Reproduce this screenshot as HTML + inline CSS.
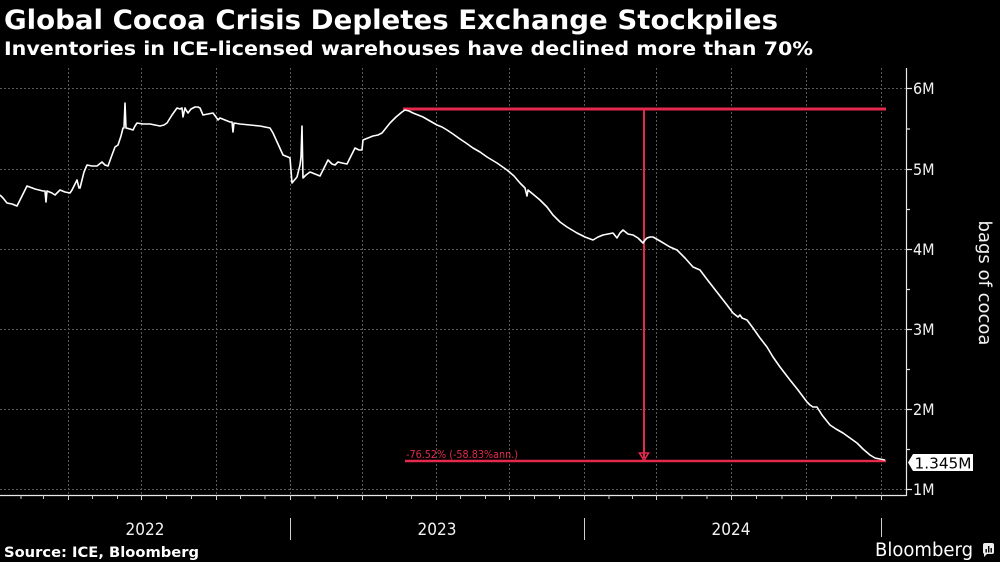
<!DOCTYPE html>
<html>
<head>
<meta charset="utf-8">
<style>
html,body{margin:0;padding:0;background:#000;}
body{width:1000px;height:562px;overflow:hidden;}
svg{display:block;}
</style>
</head>
<body>
<svg width="1000" height="562" viewBox="0 0 1000 562" xmlns="http://www.w3.org/2000/svg">
<rect x="0" y="0" width="1000" height="562" fill="#000"/>

<!-- Title -->
<text x="4" y="29" font-family="DejaVu Sans, Liberation Sans, sans-serif" font-weight="bold" font-size="27" fill="#fff" textLength="774" lengthAdjust="spacingAndGlyphs">Global Cocoa Crisis Depletes Exchange Stockpiles</text>
<text x="4" y="55" font-family="DejaVu Sans, Liberation Sans, sans-serif" font-weight="bold" font-size="18.5" fill="#fff" textLength="809" lengthAdjust="spacingAndGlyphs">Inventories in ICE-licensed warehouses have declined more than 70%</text>

<!-- Gridlines -->
<g stroke="#5a5a5a" stroke-width="1" stroke-dasharray="2,2" fill="none">
  <line x1="0" y1="88.5" x2="906" y2="88.5"/>
  <line x1="0" y1="169.5" x2="906" y2="169.5"/>
  <line x1="0" y1="249.5" x2="906" y2="249.5"/>
  <line x1="0" y1="329.5" x2="906" y2="329.5"/>
  <line x1="0" y1="409.5" x2="906" y2="409.5"/>
  <line x1="0" y1="489.5" x2="906" y2="489.5"/>
  <line x1="68.5" y1="68" x2="68.5" y2="495"/>
  <line x1="141.5" y1="68" x2="141.5" y2="495"/>
  <line x1="216.5" y1="68" x2="216.5" y2="495"/>
  <line x1="290.5" y1="68" x2="290.5" y2="495"/>
  <line x1="362.5" y1="68" x2="362.5" y2="495"/>
  <line x1="436.5" y1="68" x2="436.5" y2="495"/>
  <line x1="509.5" y1="68" x2="509.5" y2="495"/>
  <line x1="584.5" y1="68" x2="584.5" y2="495"/>
  <line x1="656.5" y1="68" x2="656.5" y2="495"/>
  <line x1="731.5" y1="68" x2="731.5" y2="495"/>
  <line x1="806.5" y1="68" x2="806.5" y2="495"/>
  <line x1="881.5" y1="68" x2="881.5" y2="495"/>
</g>

<!-- Axes -->
<g stroke="#e8e8e8" stroke-width="1.2" fill="none">
  <line x1="0" y1="495.5" x2="906.5" y2="495.5"/>
  <line x1="906.5" y1="68" x2="906.5" y2="496"/>
  <!-- right axis major ticks -->
  <line x1="906" y1="88.5" x2="912" y2="88.5"/>
  <line x1="906" y1="169.5" x2="912" y2="169.5"/>
  <line x1="906" y1="249.5" x2="912" y2="249.5"/>
  <line x1="906" y1="329.5" x2="912" y2="329.5"/>
  <line x1="906" y1="409.5" x2="912" y2="409.5"/>
  <line x1="906" y1="489.5" x2="912" y2="489.5"/>
  <!-- minor -->
  <line x1="906" y1="129" x2="910" y2="129"/>
  <line x1="906" y1="209.5" x2="910" y2="209.5"/>
  <line x1="906" y1="289.5" x2="910" y2="289.5"/>
  <line x1="906" y1="369.5" x2="910" y2="369.5"/>
  <line x1="906" y1="449.5" x2="910" y2="449.5"/>
</g>
<g stroke="#d0d0d0" stroke-width="1" fill="none">
  <!-- monthly ticks -->
  <line x1="21" y1="495" x2="21" y2="499"/>
  <line x1="43.5" y1="495" x2="43.5" y2="499"/>
  <line x1="68.5" y1="495" x2="68.5" y2="500"/>
  <line x1="92.5" y1="495" x2="92.5" y2="499"/>
  <line x1="117.5" y1="495" x2="117.5" y2="499"/>
  <line x1="141.5" y1="495" x2="141.5" y2="500"/>
  <line x1="166.5" y1="495" x2="166.5" y2="499"/>
  <line x1="191.5" y1="495" x2="191.5" y2="499"/>
  <line x1="216.5" y1="495" x2="216.5" y2="500"/>
  <line x1="240.5" y1="495" x2="240.5" y2="499"/>
  <line x1="265" y1="495" x2="265" y2="499"/>
  <line x1="290.5" y1="495" x2="290.5" y2="500"/>
  <line x1="315" y1="495" x2="315" y2="499"/>
  <line x1="337.5" y1="495" x2="337.5" y2="499"/>
  <line x1="362.5" y1="495" x2="362.5" y2="500"/>
  <line x1="386.5" y1="495" x2="386.5" y2="499"/>
  <line x1="411.5" y1="495" x2="411.5" y2="499"/>
  <line x1="436.5" y1="495" x2="436.5" y2="500"/>
  <line x1="460.5" y1="495" x2="460.5" y2="499"/>
  <line x1="485.5" y1="495" x2="485.5" y2="499"/>
  <line x1="509.5" y1="495" x2="509.5" y2="500"/>
  <line x1="534.5" y1="495" x2="534.5" y2="499"/>
  <line x1="559.5" y1="495" x2="559.5" y2="499"/>
  <line x1="584.5" y1="495" x2="584.5" y2="500"/>
  <line x1="609" y1="495" x2="609" y2="499"/>
  <line x1="632.5" y1="495" x2="632.5" y2="499"/>
  <line x1="656.5" y1="495" x2="656.5" y2="500"/>
  <line x1="682" y1="495" x2="682" y2="499"/>
  <line x1="707" y1="495" x2="707" y2="499"/>
  <line x1="731.5" y1="495" x2="731.5" y2="500"/>
  <line x1="756.5" y1="495" x2="756.5" y2="499"/>
  <line x1="782" y1="495" x2="782" y2="499"/>
  <line x1="806.5" y1="495" x2="806.5" y2="500"/>
  <line x1="831.5" y1="495" x2="831.5" y2="499"/>
  <line x1="856" y1="495" x2="856" y2="499"/>
  <line x1="881.5" y1="495" x2="881.5" y2="500"/>
  <!-- year separators -->
  <line x1="290.5" y1="518" x2="290.5" y2="540"/>
  <line x1="584.5" y1="518" x2="584.5" y2="540"/>
  <line x1="881.5" y1="518" x2="881.5" y2="537"/>
</g>

<!-- Y labels -->
<g font-family="DejaVu Sans Condensed, DejaVu Sans, Liberation Sans, sans-serif" font-size="16" fill="#f2f2f2">
  <text x="913" y="94">6M</text>
  <text x="913" y="175">5M</text>
  <text x="913" y="255">4M</text>
  <text x="913" y="335">3M</text>
  <text x="913" y="415">2M</text>
  <text x="913" y="495">1M</text>
</g>

<!-- axis title -->
<text transform="translate(979,283) rotate(90)" text-anchor="middle" font-family="DejaVu Sans, Liberation Sans, sans-serif" font-size="18" fill="#f2f2f2">bags of cocoa</text>

<!-- Year labels -->
<g font-family="DejaVu Sans Condensed, DejaVu Sans, Liberation Sans, sans-serif" font-size="17" fill="#f2f2f2" text-anchor="middle">
  <text x="145" y="535">2022</text>
  <text x="437" y="535">2023</text>
  <text x="731" y="535">2024</text>
</g>

<!-- Red annotation -->
<g stroke="#e3294c" fill="none">
  <line x1="403" y1="109" x2="886" y2="109" stroke-width="3"/>
  <line x1="405" y1="461" x2="886" y2="461" stroke-width="2.6"/>
  <line x1="644" y1="110" x2="644" y2="458" stroke-width="2"/>
  <path d="M639.5,453 L648.5,453 L644,460.5 Z" stroke-width="1.6"/>
</g>
<text x="406" y="458" font-family="DejaVu Sans Condensed, DejaVu Sans, Liberation Sans, sans-serif" font-size="10.5" fill="#e3294c" textLength="112" lengthAdjust="spacingAndGlyphs">-76.52% (-58.83%ann.)</text>

<!-- Data line -->
<polyline fill="none" stroke="#ffffff" stroke-width="1.6" stroke-linejoin="round" points="0,195 3,198 7,203 12,204 17,206 22,196 27,186 35,189 43,191 45,191 46,202 47,191 52,193 55,195 60,190 65,192 70,193 72,190 77,180 79,188 80,188 84,172 87,165 92,166 97,166 102,162 105,165 108,166 112,155 115,147 118,145 121,136 123,128 124,128 125,103 126,128 130,129 133,130 135,126 137,123 143,124 150,124 155,125 160,126 164,125 167,123 172,115 177,108 180,109 182,108 183,117 185,108 186,110 188,113 191,109 195,107 198,107 200,108 203,115 208,114 213,113 216,117 218,120 220,118 225,120 230,122 232,122 233,132 234,123 240,124 250,125 260,126 270,128 273,133 278,144 283,155 288,157 290,158 292,183 297,177 300,165 301,157 302,126 303,178 306,175 310,172 315,174 320,176 324,168 328,160 332,164 335,165 338,162 342,163 347,164 351,156 355,148 359,150 362,150 363,140 368,138 373,136 378,135 382,133 386,128 390,123 396,117 402,112 405,110 409,111 413,113 418,115 423,117 430,121 437,125 442,127 447,130 453,134 460,139 466,143 473,148 480,152 487,157 497,163 507,170 514,176 520,183 525,188 527,196 528,190 534,195 540,200 547,207 553,215 560,222 567,227 572,230 577,233 585,237 593,240 598,237 603,235 608,234 613,233 617,238 620,233 623,230 628,234 633,235 638,238 643,243 645,240 647,238 650,237 653,237 660,241 670,247 677,250 685,258 693,267 700,270 706,278 713,287 720,296 727,305 733,313 738,317 740,315 742,318 747,320 753,328 760,338 767,347 773,357 780,367 790,380 798,390 807,402 810,405 813,407 817,407 822,415 830,425 836,429 843,433 850,438 857,443 863,449 870,455 875,458 880,459 885,460"/>

<!-- Value label -->
<path d="M908,462.5 L913,454 L973,454 L973,471 L913,471 Z" fill="#ffffff"/>
<text x="943" y="468.5" text-anchor="middle" font-family="DejaVu Sans Condensed, DejaVu Sans, Liberation Sans, sans-serif" font-size="15.5" fill="#000" textLength="57" lengthAdjust="spacingAndGlyphs">1.345M</text>

<!-- Source -->
<text x="4" y="557" font-family="DejaVu Sans, Liberation Sans, sans-serif" font-weight="bold" font-size="14.5" fill="#fff" textLength="195" lengthAdjust="spacingAndGlyphs">Source: ICE, Bloomberg</text>

<!-- Bloomberg logo -->
<text x="875" y="556" font-family="DejaVu Sans, Liberation Sans, sans-serif" font-size="18.5" fill="#fff" textLength="98" lengthAdjust="spacingAndGlyphs">Bloomberg</text>
<g>
  <rect x="983" y="543" width="11" height="11" rx="2" fill="#eee"/>
  <path d="M984,553 L984,557 L988,553 Z" fill="#eee"/>
  <rect x="985.5" y="549" width="1.4" height="3.5" fill="#000"/>
  <rect x="988" y="546" width="1.4" height="6.5" fill="#000"/>
  <rect x="990.5" y="548" width="1.4" height="4.5" fill="#000"/>
</g>
</svg>
</body>
</html>
